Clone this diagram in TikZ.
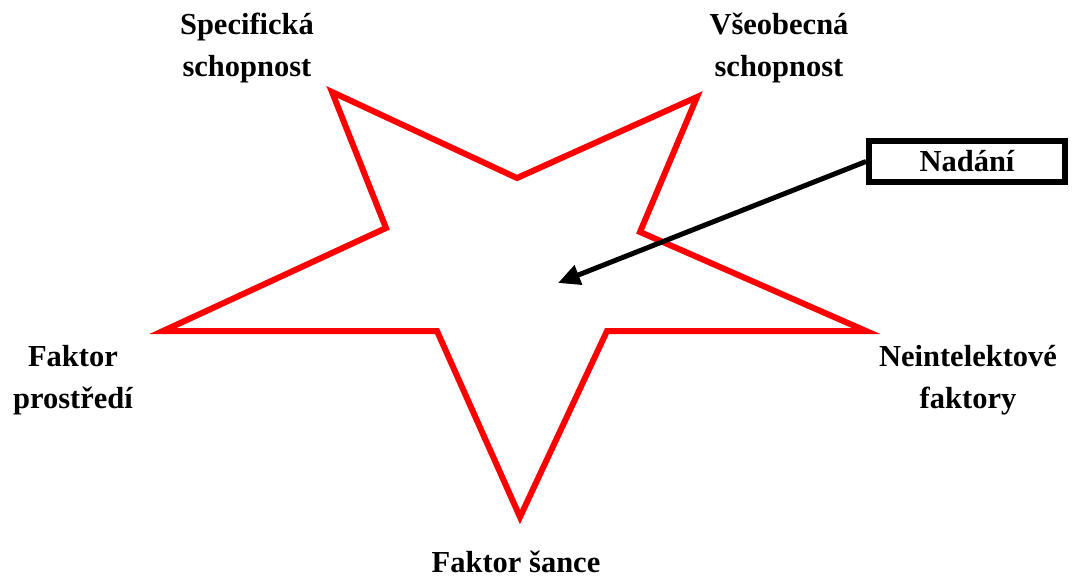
\documentclass[tikz,border=0pt]{standalone}
\usepackage{fontspec}
\setmainfont{Liberation Serif}
\usetikzlibrary{arrows.meta}

\tikzset{
    popis/.style={align=center, font=\fontsize{30.5}{42}\selectfont\bfseries, inner sep=0pt},
    hvezda/.style={draw=red, line width=6pt, line join=miter},
    ramecek/.style={draw=black, line width=6pt, minimum width=196pt, minimum height=41pt, font=\fontsize{30.5}{36}\selectfont\bfseries},
}

\begin{document}
\begin{tikzpicture}[x=1pt,y=-1pt]
        \useasboundingbox (0,0) rectangle (1073,580);
        % vrcholy hvezdy
        \coordinate (hl) at (332,92);
        \coordinate (hp) at (697,97);
        \coordinate (l) at (163,331);
        \coordinate (p) at (866,331);
        \coordinate (d) at (520,517);
        \coordinate (vh) at (517,178);
        \coordinate (vl) at (386,228);
        \coordinate (vp) at (640,232);
        \coordinate (vdl) at (437,331);
        \coordinate (vdp) at (607,331);
        \coordinate (stred) at (558,283);
        \draw[hvezda] (hl) -- (vh) -- (hp) -- (vp) -- (p) -- (vdp) -- (d) -- (vdl) -- (l) -- (vl) -- cycle;
        % popisky
        \node[popis] (spec) at (247,48) {Specifická\\schopnost};
        \node[popis] (vseob) at (779,48) {Všeobecná\\schopnost};
        \node[popis] (prostr) at (73,380) {Faktor\\prostředí};
        \node[popis] (neint) at (968,380) {Neintelektové\\faktory};
        \node[popis] (sance) at (516,562) {Faktor šance};
        \node[ramecek] (nadani) at (967,161.5) {Nadání};
        \draw[line width=5pt, -{Triangle[length=22pt,width=20pt]}] (nadani.west) -- (stred);
    \end{tikzpicture}
\end{document}
